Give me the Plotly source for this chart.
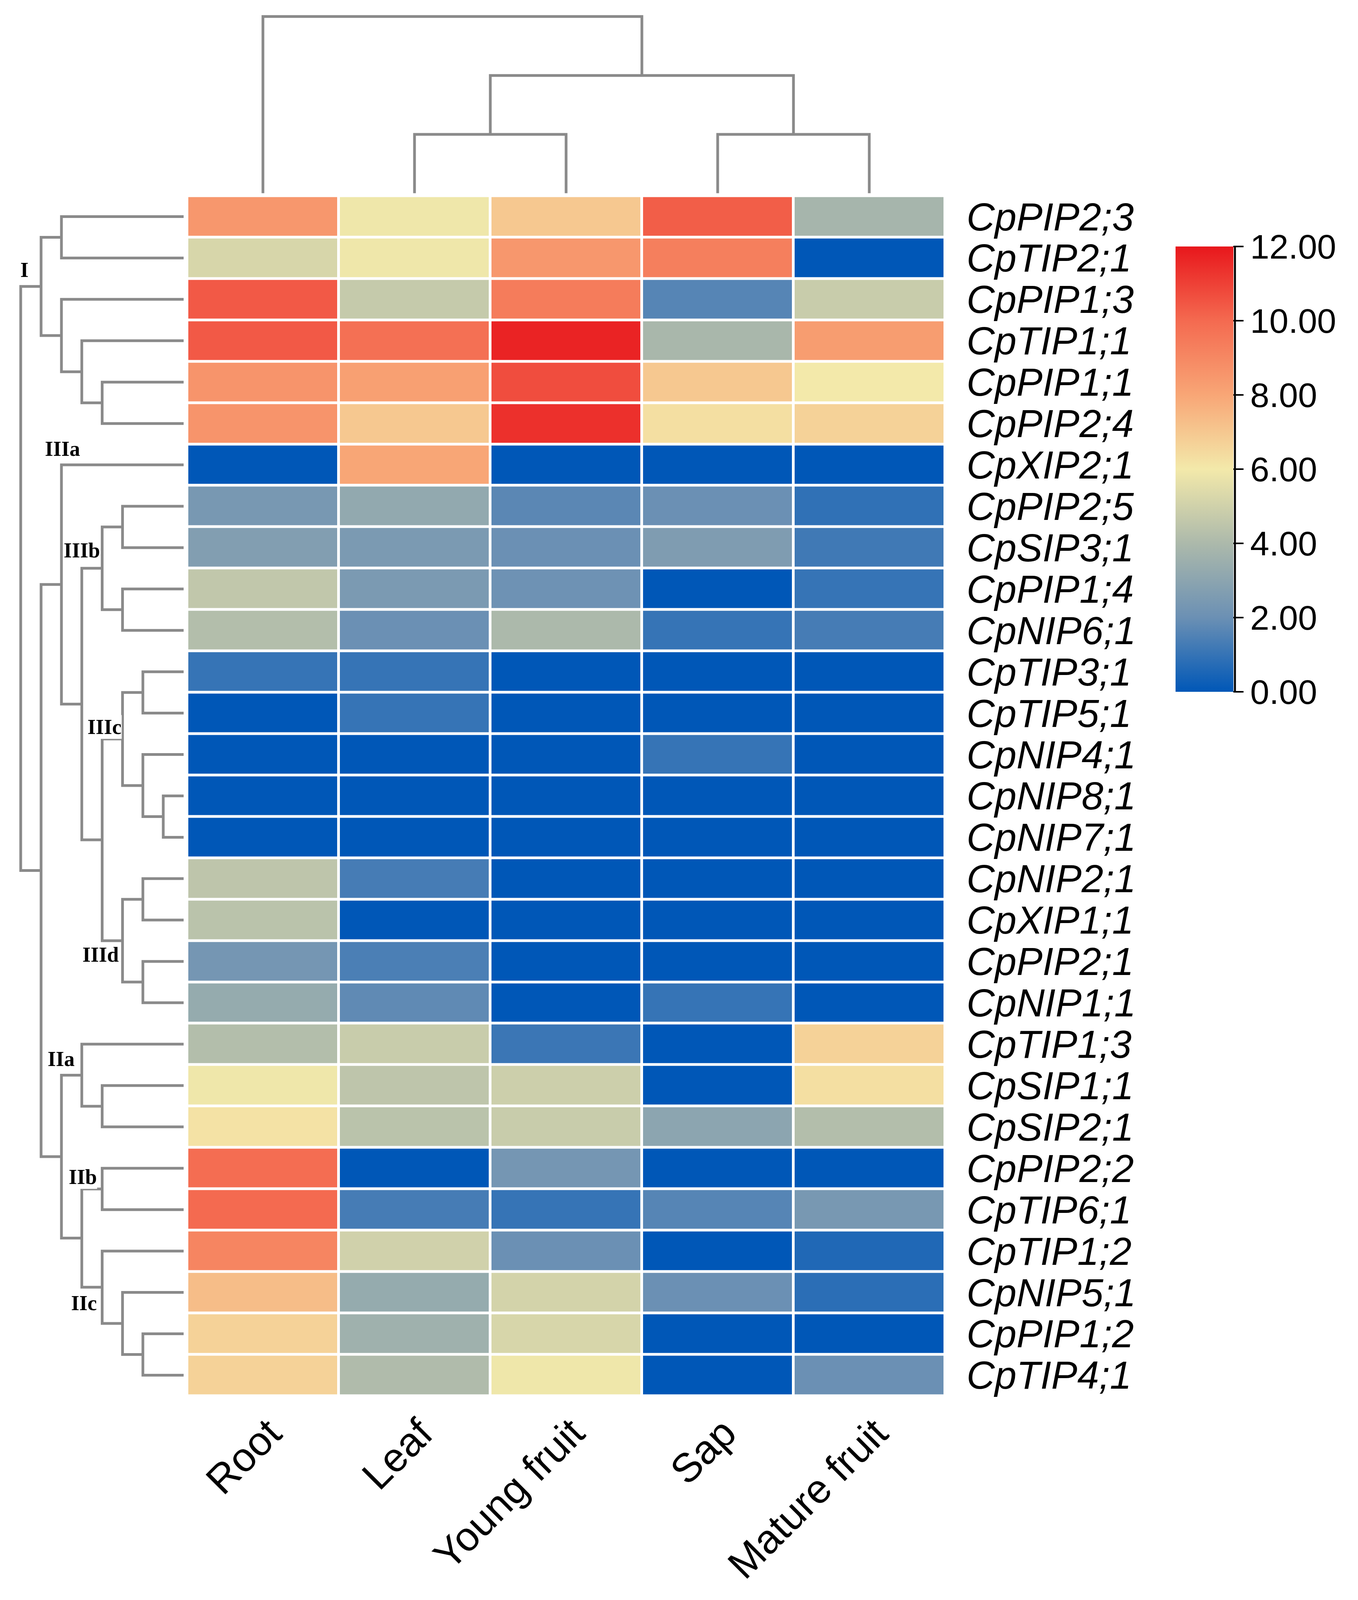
import plotly.graph_objects as go

# reference picture size, used to turn pixel positions into paper fractions
REF_WIDTH = 3476
REF_HEIGHT = 4266

TISSUES = ["Root", "Leaf", "Young fruit", "Sap", "Mature fruit"]

GENES = [
    "CpPIP2;3", "CpTIP2;1", "CpPIP1;3", "CpTIP1;1", "CpPIP1;1", "CpPIP2;4",
    "CpXIP2;1", "CpPIP2;5", "CpSIP3;1", "CpPIP1;4", "CpNIP6;1", "CpTIP3;1",
    "CpTIP5;1", "CpNIP4;1", "CpNIP8;1", "CpNIP7;1", "CpNIP2;1", "CpXIP1;1",
    "CpPIP2;1", "CpNIP1;1", "CpTIP1;3", "CpSIP1;1", "CpSIP2;1", "CpPIP2;2",
    "CpTIP6;1", "CpTIP1;2", "CpNIP5;1", "CpPIP1;2", "CpTIP4;1",
]

# expression values, one list per tissue, in gene order above
ROOT = [8.5, 5.2, 10.4, 10.4, 8.6, 8.6, 0.0, 2.4, 2.7, 4.6, 4.2, 1.0, 0.0, 0.0, 0.0,
        0.0, 4.5, 4.4, 2.3, 3.3, 4.2, 5.9, 6.2, 9.9, 10.0, 9.1, 7.3, 6.7, 6.7]
LEAF = [5.9, 5.9, 4.7, 9.8, 8.2, 7.0, 8.0, 3.2, 2.5, 2.5, 2.0, 1.0, 1.0, 0.0, 0.0,
        0.0, 1.3, 0.0, 1.4, 1.8, 4.8, 4.5, 4.4, 0.0, 1.3, 5.0, 3.3, 3.6, 4.1]
YOUNG_FRUIT = [7.0, 8.5, 9.4, 11.7, 10.7, 11.4, 0.0, 1.7, 2.0, 2.1, 4.0, 0.0, 0.0, 0.0, 0.0,
               0.0, 0.0, 0.0, 0.0, 0.0, 1.1, 4.9, 4.8, 2.3, 1.0, 2.0, 5.1, 5.2, 5.9]
SAP = [10.3, 9.3, 1.6, 3.9, 7.0, 6.3, 0.0, 2.0, 2.6, 0.0, 1.0, 0.0, 0.0, 1.0, 0.0,
       0.0, 0.0, 0.0, 0.0, 1.0, 0.0, 0.0, 3.0, 0.0, 1.6, 0.0, 2.0, 0.0, 0.0]
MATURE_FRUIT = [3.8, 0.0, 4.8, 8.3, 6.0, 6.7, 0.0, 0.9, 1.2, 1.0, 1.3, 0.0, 0.0, 0.0, 0.0,
                0.0, 0.0, 0.0, 0.0, 0.0, 6.7, 6.3, 4.2, 0.0, 2.4, 0.6, 0.8, 0.0, 2.0]

# row clustering: (left, right, level), merged nodes numbered from len(GENES)
ROW_LINKAGE = [
    (0, 1, 6), (4, 5, 4), (3, 30, 5), (2, 31, 6), (29, 32, 7),
    (7, 8, 3), (9, 10, 3), (34, 35, 4),
    (11, 12, 2), (14, 15, 1), (13, 38, 2), (37, 39, 3),
    (16, 17, 2), (18, 19, 2), (41, 42, 3), (40, 43, 4), (36, 44, 5), (6, 45, 6),
    (21, 22, 4), (20, 47, 5), (23, 24, 4), (27, 28, 2), (26, 50, 3), (25, 51, 4),
    (49, 52, 5), (48, 53, 6), (46, 54, 7), (33, 55, 8),
]

# column clustering
COL_LINKAGE = [(1, 2, 1), (3, 4, 1), (5, 6, 2), (0, 7, 3)]

CLUSTER_LABELS = ["I", "IIIa", "IIIb", "IIIc", "IIId", "IIa", "IIb", "IIc"]
CLUSTER_LABEL_PX = [(62, 718), (160, 1195), (209, 1466), (267, 1938),
                    (257, 2546), (156, 2825), (212, 3140), (215, 3476)]

TICK_VALUES = [0, 2, 4, 6, 8, 10, 12]

COLORSCALE = [
    [0.0, "#0057b7"],
    [1 / 6, "#6b90b4"],
    [2 / 6, "#acb9ab"],
    [3 / 6, "#f3e9aa"],
    [4 / 6, "#f8a676"],
    [5 / 6, "#f46a50"],
    [1.0, "#e8171c"],
]

LINE_COLOR = "#8a8a8a"
LINE_WIDTH = 7
SANS = "Liberation Sans, Arial, sans-serif"
SERIF = "Liberation Serif, Times New Roman, serif"
ROW_LABEL_SIZE = 100
COL_LABEL_SIZE = 104

# layout in reference pixels
HEAT_LEFT, HEAT_RIGHT = 479, 2419
HEAT_TOP, HEAT_BOTTOM = 520, 3724
ROW_TREE_RIGHT = 470
COL_TREE_BOTTOM = 513


def fx(p):
    return p / REF_WIDTH


def fy(p):
    return 1 - p / REF_HEIGHT


def dendrogram_lines(linkage, n):
    pos = [float(i) for i in range(n)]
    level = [0.0] * n
    along, across = [], []
    for a, b, h in linkage:
        along += [pos[a], pos[a], pos[b], pos[b], None]
        across += [level[a], h, h, level[b], None]
        pos.append((pos[a] + pos[b]) / 2)
        level.append(h)
    return along, across


z = [list(row) for row in zip(ROOT, LEAF, YOUNG_FRUIT, SAP, MATURE_FRUIT)]

fig = go.Figure()

fig.add_trace(go.Heatmap(
    z=z,
    x=list(range(len(TISSUES))),
    y=list(range(len(GENES))),
    colorscale=COLORSCALE,
    zmin=0,
    zmax=12,
    xgap=7,
    ygap=7,
    hoverinfo="skip",
    colorbar=dict(
        x=fx(3009), xanchor="left", xpad=0,
        y=fy(655), yanchor="top", ypad=0,
        thickness=148, lenmode="fraction", len=(1844 - 655) / REF_HEIGHT,
        outlinewidth=0,
        ticks="outside", ticklen=26, tickwidth=4, tickcolor="black",
        tickvals=TICK_VALUES, tickformat=".2f",
        tickfont=dict(family=SANS, size=88, color="black"),
    ),
))

row_pos, row_level = dendrogram_lines(ROW_LINKAGE, len(GENES))
fig.add_trace(go.Scatter(
    x=row_level, y=row_pos, mode="lines", xaxis="x2", yaxis="y2",
    line=dict(color=LINE_COLOR, width=LINE_WIDTH), hoverinfo="skip",
))

col_pos, col_level = dendrogram_lines(COL_LINKAGE, len(TISSUES))
fig.add_trace(go.Scatter(
    x=col_pos, y=col_level, mode="lines", xaxis="x3", yaxis="y3",
    line=dict(color=LINE_COLOR, width=LINE_WIDTH), hoverinfo="skip",
))

for i, name in enumerate(TISSUES):
    fig.add_annotation(
        x=i, xref="x", y=fy(3758), yref="paper",
        text=name, showarrow=False, textangle=-45,
        xanchor="right", yanchor="top", xshift=72,
        font=dict(family=SANS, size=COL_LABEL_SIZE, color="black"),
    )

for text, (lx, ly) in zip(CLUSTER_LABELS, CLUSTER_LABEL_PX):
    fig.add_annotation(
        x=fx(lx), y=fy(ly), xref="paper", yref="paper",
        text="<b>" + text + "</b>", showarrow=False,
        xanchor="center", yanchor="middle",
        bgcolor="white", borderpad=0,
        font=dict(family=SERIF, size=54, color="black"),
    )

# the colour bar's axis line
fig.add_shape(
    type="line", xref="paper", yref="paper",
    x0=fx(3161), x1=fx(3161), y0=fy(653), y1=fy(1846),
    line=dict(color="black", width=5),
)

row_levels_span = ROW_TREE_RIGHT / ((ROW_TREE_RIGHT - 53) / 8)
col_levels_span = COL_TREE_BOTTOM / ((COL_TREE_BOTTOM - 41) / 3)

fig.update_layout(
    autosize=True,
    margin=dict(l=0, r=0, t=0, b=0),
    paper_bgcolor="white",
    plot_bgcolor="white",
    showlegend=False,
    xaxis=dict(
        domain=[fx(HEAT_LEFT), fx(HEAT_RIGHT)], range=[-0.5, 4.5],
        showticklabels=False, showgrid=False, zeroline=False, ticks="",
    ),
    yaxis=dict(
        domain=[fy(HEAT_BOTTOM), fy(HEAT_TOP)], range=[len(GENES) - 0.5, -0.5],
        side="right", tickvals=list(range(len(GENES))),
        ticktext=["<i>" + g + "</i>" for g in GENES],
        ticks="outside", ticklen=34, tickcolor="rgba(0,0,0,0)",
        tickfont=dict(family=SANS, size=ROW_LABEL_SIZE, color="black"),
        showgrid=False, zeroline=False,
    ),
    xaxis2=dict(
        domain=[0, fx(ROW_TREE_RIGHT)], range=[row_levels_span, 0],
        anchor="y2", visible=False,
    ),
    yaxis2=dict(
        domain=[fy(HEAT_BOTTOM), fy(HEAT_TOP)], range=[len(GENES) - 0.5, -0.5],
        anchor="x2", visible=False,
    ),
    xaxis3=dict(
        domain=[fx(HEAT_LEFT), fx(HEAT_RIGHT)], range=[-0.5, 4.5],
        anchor="y3", visible=False,
    ),
    yaxis3=dict(
        domain=[fy(COL_TREE_BOTTOM), 1], range=[0, col_levels_span],
        anchor="x3", visible=False,
    ),
)

# fill the browser window exactly, without the page margin
fit_page = (
    "document.body.style.margin='0';"
    "document.body.style.overflow='hidden';"
    "Plotly.Plots.resize(document.getElementById('{plot_id}'));"
)

fig.write_html(
    "out.html",
    config={"displayModeBar": False},
    default_width="100vw",
    default_height="100vh",
    post_script=fit_page,
)
